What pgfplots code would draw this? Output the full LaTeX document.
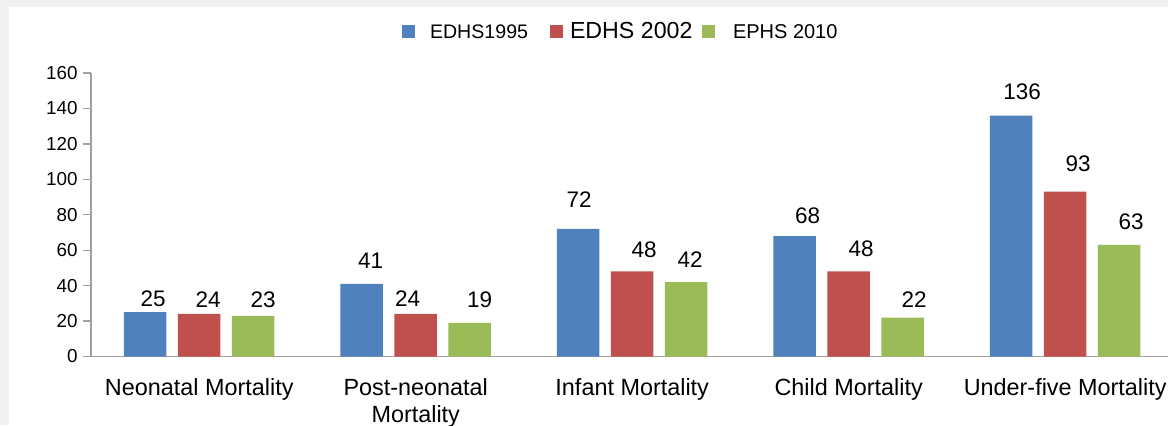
\documentclass[border=0pt]{standalone}
\usepackage{fontspec}
\setmainfont{Liberation Sans}
\usepackage{pgfplots}
\pgfplotsset{compat=1.18}
\usepackage{pgfplotstable}

\definecolor{cblue}{RGB}{79,129,189}
\definecolor{cred}{RGB}{192,80,77}
\definecolor{cgreen}{RGB}{155,187,89}
\definecolor{bg}{RGB}{240,241,243}
\definecolor{axgray}{RGB}{160,160,160}

\pgfplotstableread{
x a adx ady b bdx bdy c cdx cdy
0 25 4 2.5 24 4.5 3 23 5 4
1 41 4.5 7.5 24 -4 3.5 19 5 7.5
2 72 0.5 10.5 48 6 6.5 42 2 7
3 68 6.5 6 48 6.25 7 22 5.75 5
4 136 5.5 7.5 93 6.5 10 63 6 7.5
}\datatable

\pgfplotsset{
  sqlegend/.style={legend image code/.code={\fill[##1,draw=none] (0pt,0.25pt) rectangle (6.5pt,6.75pt);}},
}

\begin{document}
\begin{tikzpicture}
\fill[bg] (-45.5pt,-34.25pt) rectangle (538.5pt,178.25pt);
\fill[white] (-41pt,-34.25pt) rectangle (538.5pt,174.75pt);
\begin{axis}[
  at={(0pt,0pt)}, anchor=south west,
  scale only axis, width=538.5pt, height=141.75pt,
  xmin=-0.5, xmax=4.475, ymin=0, ymax=160,
  clip=false,
  axis x line=bottom, axis y line=left,
  axis line style={-, draw=axgray, line width=0.65pt},
  ybar=5.75pt, bar width=21.25pt,
  xtick={0,1,2,3,4},
  xticklabels={Neonatal Mortality,{Post-neonatal\\Mortality},Infant Mortality,Child Mortality,Under-five Mortality},
  xtick style={draw=none},
  ytick={0,20,...,160},
  tick align=outside,
  major tick length=4pt,
  ytick style={draw=axgray, line width=0.65pt},
  /pgf/number format/assume math mode=true,
  yticklabel style={font=\fontsize{9.4}{10}\selectfont, inner sep=0pt, anchor=east, xshift=-2.5pt},
  xticklabel style={font=\fontsize{11.7}{13.5}\selectfont, align=center, anchor=north, inner sep=0pt, yshift=-7pt},
  every node near coord/.append style={anchor=south, inner sep=0pt, font=\fontsize{11.25}{12}\selectfont},
  legend style={at={(axis description cs:0.28877,1.1492)}, anchor=west, draw=none, fill=none,
    inner sep=0pt, outer sep=0pt, legend columns=3, column sep=0pt, row sep=0pt,
    nodes={inner sep=0pt, text depth=0pt}, cells={anchor=base west}},
]
\addplot[ybar, fill=cblue, draw=none, sqlegend,
  visualization depends on={\thisrow{adx} \as \ldx},
  visualization depends on={\thisrow{ady} \as \ldy},
  nodes near coords, nodes near coords style={xshift=\ldx pt, yshift=\ldy pt}]
  table[x=x,y=a]{\datatable};
\addplot[ybar, fill=cred, draw=none, sqlegend,
  visualization depends on={\thisrow{bdx} \as \ldx},
  visualization depends on={\thisrow{bdy} \as \ldy},
  nodes near coords, nodes near coords style={xshift=\ldx pt, yshift=\ldy pt}]
  table[x=x,y=b]{\datatable};
\addplot[ybar, fill=cgreen, draw=none, sqlegend,
  visualization depends on={\thisrow{cdx} \as \ldx},
  visualization depends on={\thisrow{cdy} \as \ldy},
  nodes near coords, nodes near coords style={xshift=\ldx pt, yshift=\ldy pt}]
  table[x=x,y=c]{\datatable};
\legend{\makebox[67.5pt][l]{\hspace{7.5pt}\fontsize{9.8}{11}\selectfont EDHS1995},
        \makebox[69.5pt][l]{\hspace{3.5pt}\fontsize{11.6}{12}\selectfont EDHS 2002},
        \makebox[62pt][l]{\hspace{9pt}\fontsize{10}{11}\selectfont EPHS 2010}}
\end{axis}
\pgfresetboundingbox
\path[use as bounding box] (-45.5pt,-34.25pt) rectangle (538.5pt,178.25pt);
\end{tikzpicture}
\end{document}
